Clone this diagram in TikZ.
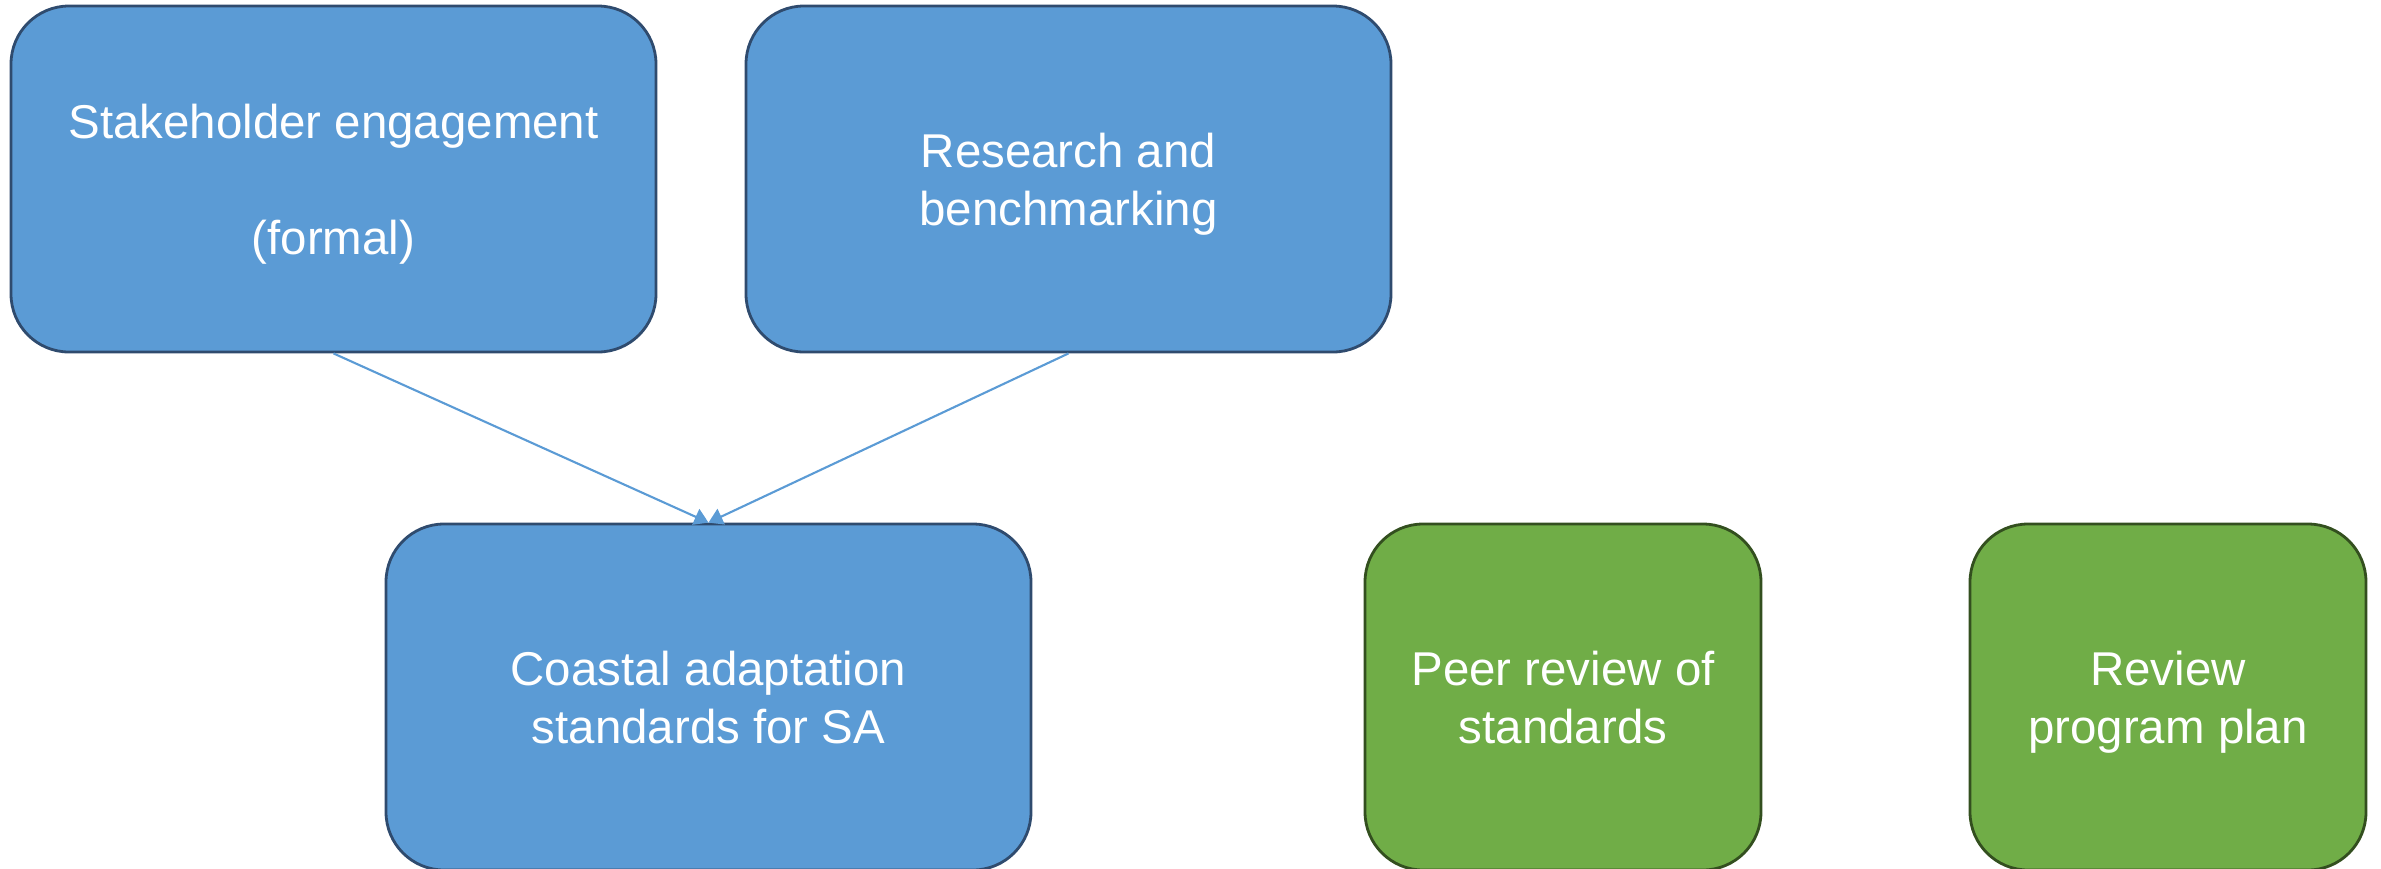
\documentclass[tikz,border=0pt]{standalone}
\usepackage{fontspec}
\setmainfont{Liberation Sans}
\usetikzlibrary{arrows.meta, positioning}
\definecolor{boxblue}{HTML}{5B9BD5}
\definecolor{edgeblue}{HTML}{2F4B6E}
\definecolor{boxgreen}{HTML}{70AD47}
\definecolor{edgegreen}{HTML}{334F1F}

\tikzset{
  bluebox/.style={draw=edgeblue, fill=boxblue, line width=0.8pt, rounded corners=0.58cm,
    minimum width=6.45cm, minimum height=3.46cm, text=white, align=center,
    text depth=0pt,
    font=\fontsize{13.5}{16.5}\selectfont},
  greenbox/.style={bluebox, draw=edgegreen, fill=boxgreen, minimum width=3.96cm},
  feed/.style={draw=boxblue, line width=0.6pt, -{Triangle[length=0.14cm, width=0.17cm]}}
}

\begin{document}
\begin{tikzpicture}
    \useasboundingbox (0,0) rectangle (23.81,-8.68);

    % Inputs
    \node[bluebox] (stake) at (3.335,-1.79) {Stakeholder engagement\\[16.5pt](formal)};
    \node[bluebox] (research) at (10.685,-1.79) {Research and\\benchmarking};

    % Standards
    \node[bluebox] (coastal) at (7.085,-6.97) {Coastal adaptation\\standards for SA};

    % Later steps
    \node[greenbox] (peer) at (15.63,-6.97) {Peer review of\\standards};
    \node[greenbox] (plan) at (21.68,-6.97) {Review\\program plan};

    % Arrows
    \draw[feed] (stake.south) -- (coastal.north);
    \draw[feed] (research.south) -- (coastal.north);
\end{tikzpicture}
\end{document}
